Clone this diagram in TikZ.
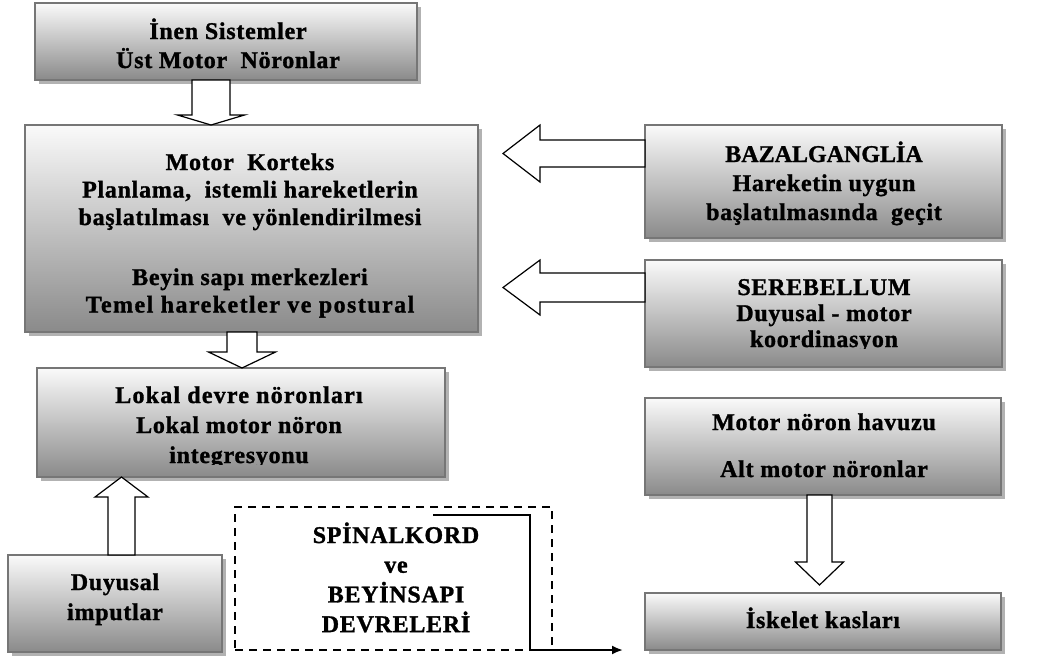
\documentclass[tikz,border=0pt]{standalone}
\usepackage{fontspec}
\setmainfont{Liberation Serif}[LetterSpace=3, BoldFeatures={FakeBold=1.2}]
\usetikzlibrary{calc,shadows,arrows.meta}
\newcommand\txtlines[2]{\fontsize{24}{#1}\selectfont\bfseries\begin{tabular}[t]{@{}c@{}}#2\end{tabular}}
\newcommand\ls[2]{{\addfontfeature{LetterSpace=#1}#2}}
\newcommand\blockarrow[5]{%
  \path ($(#2)!#5!(#1)$) coordinate (hb);
  \draw[barrow] ($(#1)!#3!90:(#2)$) -- ($(hb)!#3!90:(#2)$) -- ($(hb)!#4!90:(#2)$) -- (#2)
    -- ($(hb)!#4!-90:(#2)$) -- ($(hb)!#3!-90:(#2)$) -- ($(#1)!#3!-90:(#2)$) -- cycle;}
\definecolor{boxedge}{RGB}{118,118,118}
\definecolor{boxbot}{RGB}{138,138,138}
\definecolor{boxtop}{RGB}{250,250,250}
\tikzset{
  gbox/.style={draw=boxedge, line width=1.5pt, top color=boxtop, bottom color=boxbot,
    inner sep=0pt, outer sep=0pt,
    drop shadow={shadow xshift=3.5pt, shadow yshift=-3.5pt, fill=black!30, opacity=1}},
  tnode/.style={anchor=base, inner sep=0pt, outer sep=0pt},
  barrow/.style={draw=black, line width=1.2pt, fill=white, line join=miter},
  dbox/.style={draw=black, line width=1.8pt, dash pattern=on 8pt off 6pt, inner sep=0pt, outer sep=0pt},
  flow/.style={draw=black, line width=2pt, -{Latex[length=11pt,width=9pt]}}
}
\begin{document}
\begin{tikzpicture}[x=1pt,y=-1pt]
\useasboundingbox (0,0) rectangle (1039,657);
% boxes
\node[gbox, minimum width=382pt, minimum height=77pt]  (b1) at (226,41.5) {};
\node[gbox, minimum width=453pt, minimum height=207pt] (b2) at (251.5,228.5) {};
\node[gbox, minimum width=408pt, minimum height=109pt] (b3) at (241,422.5) {};
\node[gbox, minimum width=214pt, minimum height=97pt]  (b4) at (115,603.5) {};
\node[gbox, minimum width=357pt, minimum height=113pt] (b5) at (823.5,181.5) {};
\node[gbox, minimum width=357pt, minimum height=107pt] (b6) at (823.5,313.5) {};
\node[gbox, minimum width=356pt, minimum height=97pt]  (b7) at (823,446.5) {};
\node[gbox, minimum width=356pt, minimum height=57pt]  (b8) at (823,621.5) {};
\node[dbox, minimum width=317pt, minimum height=143pt] (sp) at (393.5,578.5) {};
% texts
\node[tnode] (t1) at (228,39) {\txtlines{29pt}{İnen Sistemler\\Üst Motor\ \ Nöronlar}};
\node[tnode] (t2) at (250,170) {\txtlines{27.5pt}{Motor\ \ Korteks\\Planlama,\ \ istemli hareketlerin\\başlatılması\ \ ve yönlendirilmesi\\[32.5pt]Beyin sapı merkezleri\\\ls{6}{Temel hareketler ve postural}}};
\begin{scope}
\clip (30,360) rectangle (450,464.5);
\node[tnode] (t3) at (239,403) {\txtlines{30pt}{\ls{5}{Lokal\ devre\ nöronları}\\Lokal\ motor\ nöron\\integresyonu}};
\end{scope}
\node[tnode] (t4) at (115,590) {\txtlines{30pt}{Duyusal\\imputlar}};
\node[tnode] (t5) at (824,162) {\txtlines{29pt}{\ls{0}{BAZALGANGLİA}\\Hareketin uygun\\başlatılmasında\ \ geçit}};
\begin{scope}
\clip (640,255) rectangle (1010,348.5);
\node[tnode] (t6) at (824,295) {\txtlines{26pt}{SEREBELLUM\\Duyusal - motor\\koordinasyon}};
\end{scope}
\node[tnode] (t7) at (824,430) {\txtlines{27pt}{Motor\ nöron havuzu\\[20pt]Alt motor\ nöronlar}};
\node[tnode] (t8) at (823,628) {\txtlines{27pt}{İskelet kasları}};
\node[tnode] (t9) at (396,543) {\txtlines{29.7pt}{SPİNALKORD\\ve\\BEYİNSAPI\\DEVRELERİ}};
% block arrows
\path (b1.south) ++(-15,0) coordinate (a1s);
\coordinate (a1e) at (a1s |- b2.north);
\blockarrow{a1s}{a1e}{19pt}{33.5pt}{10pt}
\path (b2.south) ++(-9.5,0) coordinate (a2s);
\coordinate (a2e) at (a2s |- b3.north);
\blockarrow{a2s}{a2e}{15pt}{33.5pt}{16pt}
\path (b4.north) ++(6.5,0) coordinate (a3s);
\coordinate (a3e) at (a3s |- b3.south);
\blockarrow{a3s}{a3e}{13.5pt}{26.5pt}{20pt}
\path (b5.west) ++(0,-28) coordinate (a4s);
\path (a4s -| b2.east) ++(25,0) coordinate (a4e);
\blockarrow{a4s}{a4e}{13.5pt}{28.5pt}{37pt}
\path (b6.west) ++(0,-26) coordinate (a5s);
\path (a5s -| b2.east) ++(25,0) coordinate (a5e);
\blockarrow{a5s}{a5e}{14.5pt}{27.5pt}{37pt}
\path (b7.south) ++(-3.5,0) coordinate (a6s);
\path (a6s |- b8.north) ++(0,-8) coordinate (a6e);
\blockarrow{a6s}{a6e}{12.5pt}{24pt}{23pt}
% flow line
\path (sp.north east) ++(-119,8) coordinate (ls);
\path (sp.south east) ++(-22,0) coordinate (lm);
\path (b8.south west) ++(-22,0) coordinate (le);
\draw[flow] (ls) -| (lm) -- (le);
\end{tikzpicture}
\end{document}
